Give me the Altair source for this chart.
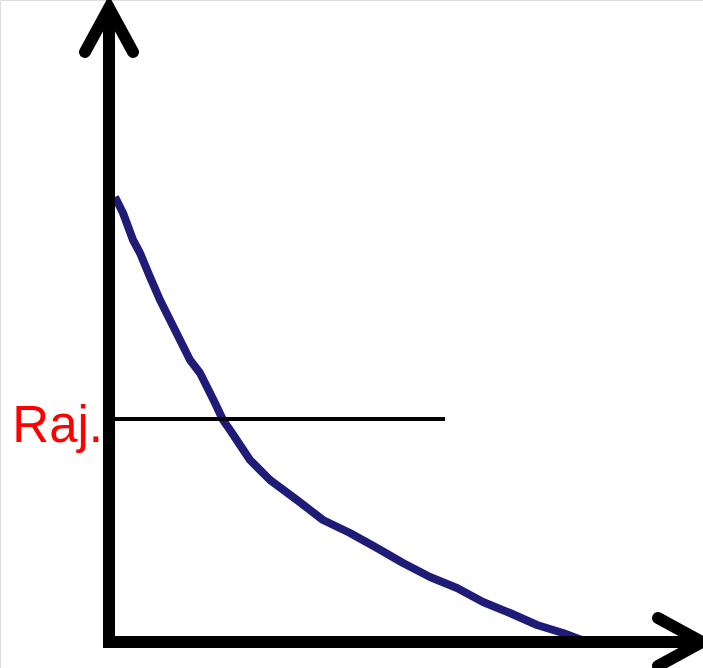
import altair as alt
import pandas as pd

# Demand-style curve (x, y in chart units, origin at the axes corner)
curve_x = [6, 14, 24, 31, 41, 51, 61, 71, 81, 91, 98, 106, 114, 121, 141, 161,
           188, 214, 241, 268, 294, 321, 348, 374, 401, 428, 454, 478]
curve_y = [445, 429, 402, 389, 365, 342, 322, 302, 282, 269, 255, 239, 222, 212,
           182, 162, 142, 122, 109, 94, 79, 65, 54, 40, 29, 17, 9, 0]

# Horizontal reference level and its label
raj_level = 223
raj_x_end = 336
raj_label = "Raj."

# Axis extents and arrowheads
x_axis_end = 593
y_axis_end = 634
arrow_len = 44
arrow_half = 24

x_dom = [-109, 594]
y_dom = [-26, 642]

xs = alt.Scale(domain=x_dom, nice=False, zero=False)
ys = alt.Scale(domain=y_dom, nice=False, zero=False)

curve_df = pd.DataFrame({"x": curve_x, "y": curve_y, "o": range(len(curve_x))})

axes_df = pd.DataFrame({
    "x": [-6, 0], "y": [0, -6], "x2": [x_axis_end, 0], "y2": [0, y_axis_end]
})

heads_df = pd.DataFrame({
    "g": ["x", "x", "x", "y", "y", "y"],
    "o": [0, 1, 2, 0, 1, 2],
    "x": [x_axis_end - arrow_len, x_axis_end, x_axis_end - arrow_len,
          -arrow_half, 0, arrow_half],
    "y": [arrow_half, 0, -arrow_half,
          y_axis_end - arrow_len, y_axis_end, y_axis_end - arrow_len],
})

raj_df = pd.DataFrame({"x": [0], "x2": [raj_x_end], "y": [raj_level]})
label_df = pd.DataFrame({"x": [-6], "y": [raj_level - 23], "t": [raj_label]})


def X(f):
    return alt.X(f, scale=xs, axis=None)


def Y(f):
    return alt.Y(f, scale=ys, axis=None)


axes = alt.Chart(axes_df).mark_rule(color="black", strokeWidth=12, strokeCap="butt").encode(
    x=X("x:Q"), y=Y("y:Q"), x2="x2:Q", y2="y2:Q"
)

heads = alt.Chart(heads_df).mark_line(
    color="black", strokeWidth=12, strokeCap="round", strokeJoin="miter", strokeMiterLimit=10
).encode(x=X("x:Q"), y=Y("y:Q"), detail="g:N", order="o:Q")

raj = alt.Chart(raj_df).mark_rule(color="black", strokeWidth=4).encode(
    x=X("x:Q"), x2="x2:Q", y=Y("y:Q")
)

curve = alt.Chart(curve_df).mark_line(
    color="#1f1c78", strokeWidth=8, strokeCap="butt", strokeJoin="round"
).encode(x=X("x:Q"), y=Y("y:Q"), order="o:Q")

label = alt.Chart(label_df).mark_text(
    color="#ff0000", font="Liberation Sans", fontSize=51, align="right", baseline="alphabetic"
).encode(x=X("x:Q"), y=Y("y:Q"), text="t:N")

chart = alt.layer(curve, raj, axes, heads, label).properties(
    width=703, height=668, padding=0, autosize=alt.AutoSizeParams(type="none")
).configure_view(stroke=None).configure(background="white")

chart.save("out.html", embed_options={"renderer": "svg", "actions": False})
